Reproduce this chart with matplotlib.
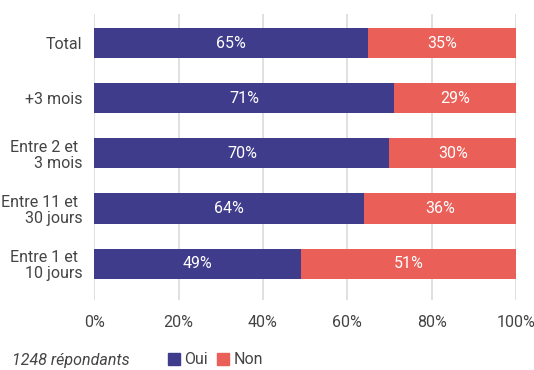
import matplotlib
matplotlib.use("Agg")
import matplotlib.pyplot as plt
from matplotlib.patches import Patch

plt.rcParams["font.family"] = ["Roboto", "DejaVu Sans"]

# ── Data ─────────────────────────────────────────────────────────────────────
categories = ["Total", "+3 mois", "Entre 2 et \n3 mois",
              "Entre 11 et \n30 jours", "Entre 1 et \n10 jours"]
oui = [65, 71, 70, 64, 49]
non = [35, 29, 30, 36, 51]
x_ticks = [0, 20, 40, 60, 80, 100]
note = "1248 répondants"

C_OUI = "#403c8c"
C_NON = "#ea5f58"
TXT = "#444444"

fig = plt.figure(figsize=(5.34, 3.70), dpi=100)
ax = fig.add_axes([0.1766, 0.189, 0.7897, 0.773])

y = list(range(len(categories)))
ax.barh(y, oui, height=0.545, color=C_OUI, zorder=3)
ax.barh(y, non, left=oui, height=0.545, color=C_NON, zorder=3)

# value labels centred in each segment
for i, (a, b) in enumerate(zip(oui, non)):
    ax.text(a / 2, i, f"{a}%", ha="center", va="center",
            color="white", fontsize=11.5, zorder=4)
    ax.text(a + b / 2, i, f"{b}%", ha="center", va="center",
            color="white", fontsize=11.5, zorder=4)

ax.set_xlim(0, 100)
ax.set_ylim(4.66, -0.525)
ax.set_xticks(x_ticks)
ax.set_xticklabels([f"{t}%" for t in x_ticks])
ax.set_yticks(y)
ax.set_yticklabels(categories, linespacing=1.1)
ax.tick_params(axis="both", length=0, colors=TXT, labelsize=11.5)
ax.tick_params(axis="x", pad=11)
ax.tick_params(axis="y", pad=8.5)
for lbl in ax.get_yticklabels():
    lbl.set_horizontalalignment("right")
    lbl.set_multialignment("right")

ax.grid(axis="x", color="#dddddd", linewidth=1.3, zorder=0)
ax.set_axisbelow(True)
for s in ax.spines.values():
    s.set_visible(False)

# footnote and legend
fig.text(12 / 534, 1 - 360 / 370, note, style="italic", color=TXT,
         fontsize=11.5, ha="left", va="center")
handles = [Patch(color=C_OUI, label="Oui"), Patch(color=C_NON, label="Non")]
fig.legend(handles=handles, loc="center left", ncol=2, frameon=False,
           bbox_to_anchor=(168 / 534, 1 - 360 / 370), handlelength=0.75,
           handleheight=0.75, handletextpad=0.25, columnspacing=0.6,
           borderaxespad=0, borderpad=0, labelcolor=TXT,
           prop={"size": 11.5})

fig.savefig("out.png", dpi=100, facecolor="white")
